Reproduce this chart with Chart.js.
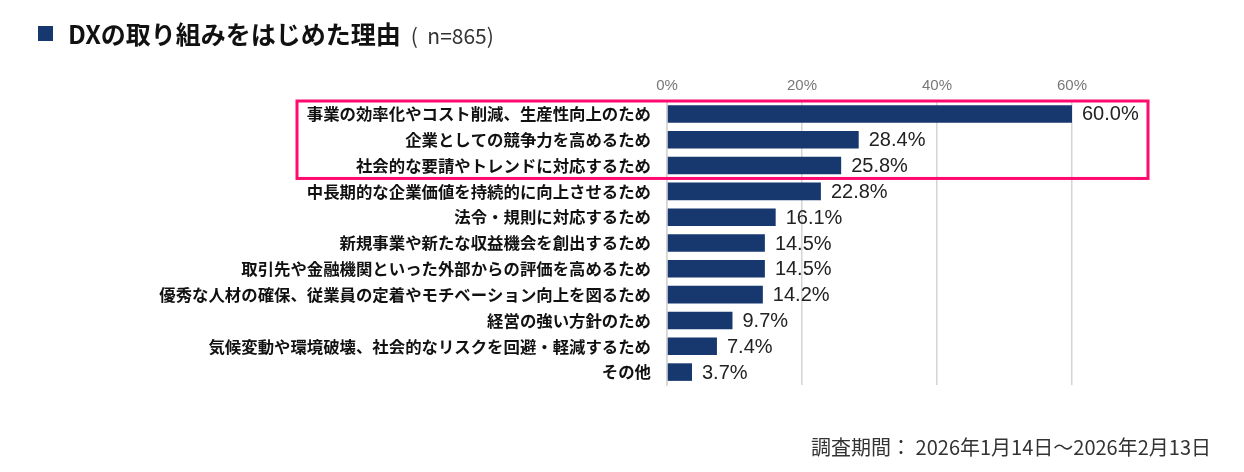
<!DOCTYPE html>
<html>
<head>
<meta charset="utf-8">
<script src="https://cdn.jsdelivr.net/npm/chart.js@4"></script>
<style>
  body { margin: 0; background: #fff; font-family: "Noto Sans CJK JP", sans-serif; }
  #wrap { position: relative; width: 1244px; height: 472px; }
  #title { position: absolute; left: 38px; top: 15px; white-space: nowrap; color: #111; }
  #title .sq { display: inline-block; width: 15px; height: 15px; background: #17376f; margin-right: 15px; vertical-align: 3px; }
  #title .main { font-size: 25px; font-weight: bold; }
  #title .n { font-size: 21px; color: #333; margin-left: 10px; }
  #foot { position: absolute; right: 33px; top: 432px; font-size: 20px; color: #333; white-space: nowrap; }
  canvas { position: absolute; left: 0; top: 0; }
</style>
</head>
<body>
<div id="wrap">
  <canvas id="barchart" width="1244" height="472"></canvas>
  <div id="title"><span class="sq"></span><span class="main">DXの取り組みをはじめた理由</span><span class="n">(&nbsp; n=865)</span></div>
  <div id="foot">調査期間： 2026年1月14日～2026年2月13日</div>
</div>
<script>
const reasons = [
  '事業の効率化やコスト削減、生産性向上のため',
  '企業としての競争力を高めるため',
  '社会的な要請やトレンドに対応するため',
  '中長期的な企業価値を持続的に向上させるため',
  '法令・規則に対応するため',
  '新規事業や新たな収益機会を創出するため',
  '取引先や金融機関といった外部からの評価を高めるため',
  '優秀な人材の確保、従業員の定着やモチベーション向上を図るため',
  '経営の強い方針のため',
  '気候変動や環境破壊、社会的なリスクを回避・軽減するため',
  'その他'
];
const shares = [60.0, 28.4, 25.8, 22.8, 16.1, 14.5, 14.5, 14.2, 9.7, 7.4, 3.7];
const tickValues = [0, 20, 40, 60];
const highlighted = 3; // first three rows are boxed

// value labels at the end of each bar
const valueLabels = {
  id: 'valueLabels',
  afterDatasetsDraw(chart) {
    const ctx = chart.ctx;
    const meta = chart.getDatasetMeta(0);
    ctx.save();
    ctx.font = '20px "Liberation Sans", Arial, sans-serif';
    ctx.fillStyle = '#222';
    ctx.textBaseline = 'middle';
    meta.data.forEach((bar, i) => {
      ctx.fillText(shares[i].toFixed(1) + '%', bar.x + 10, bar.y + 1);
    });
    ctx.restore();
  }
};

// pink box around the top rows
const highlightBox = {
  id: 'highlightBox',
  afterDraw(chart) {
    const ctx = chart.ctx;
    const y = chart.scales.y;
    const area = chart.chartArea;
    const half = (y.getPixelForValue(1) - y.getPixelForValue(0)) / 2;
    const top = y.getPixelForValue(0) - half;
    const bottom = y.getPixelForValue(highlighted - 1) + half;
    ctx.save();
    ctx.strokeStyle = '#ff0a6e';
    ctx.lineWidth = 3;
    ctx.strokeRect(area.left - 370, top, area.right - area.left + 446, bottom - top);
    ctx.restore();
  }
};

new Chart(document.getElementById('barchart').getContext('2d'), {
  type: 'bar',
  data: {
    labels: reasons,
    datasets: [{
      data: shares,
      backgroundColor: '#17376f',
      borderWidth: 0,
      barPercentage: 0.68,
      categoryPercentage: 1.0
    }]
  },
  options: {
    indexAxis: 'y',
    responsive: false,
    animation: false,
    layout: { padding: { left: 0, right: 172, top: 0, bottom: 87 } },
    plugins: {
      legend: { display: false },
      tooltip: { enabled: false }
    },
    scales: {
      x: {
        position: 'top',
        min: 0,
        max: 60,
        afterFit(scale) { scale.height = 101; },
        afterBuildTicks(scale) { scale.ticks = tickValues.map(v => ({ value: v })); },
        grid: { color: '#d4d4d4', lineWidth: 1.5, drawTicks: false },
        border: { display: false },
        ticks: {
          color: '#777',
          padding: 6,
          font: { family: '"Liberation Sans", Arial, sans-serif', size: 15 },
          callback: v => v + '%'
        }
      },
      y: {
        afterFit(scale) { scale.width = 667; },
        grid: { display: false, drawTicks: false },
        border: { display: true, color: '#d4d4d4', width: 1.5 },
        ticks: {
          color: '#111',
          padding: 16,
          font: { family: '"Noto Sans CJK JP", sans-serif', size: 16.4, weight: 'bold' }
        }
      }
    }
  },
  plugins: [valueLabels, highlightBox]
});
</script>
</body>
</html>
